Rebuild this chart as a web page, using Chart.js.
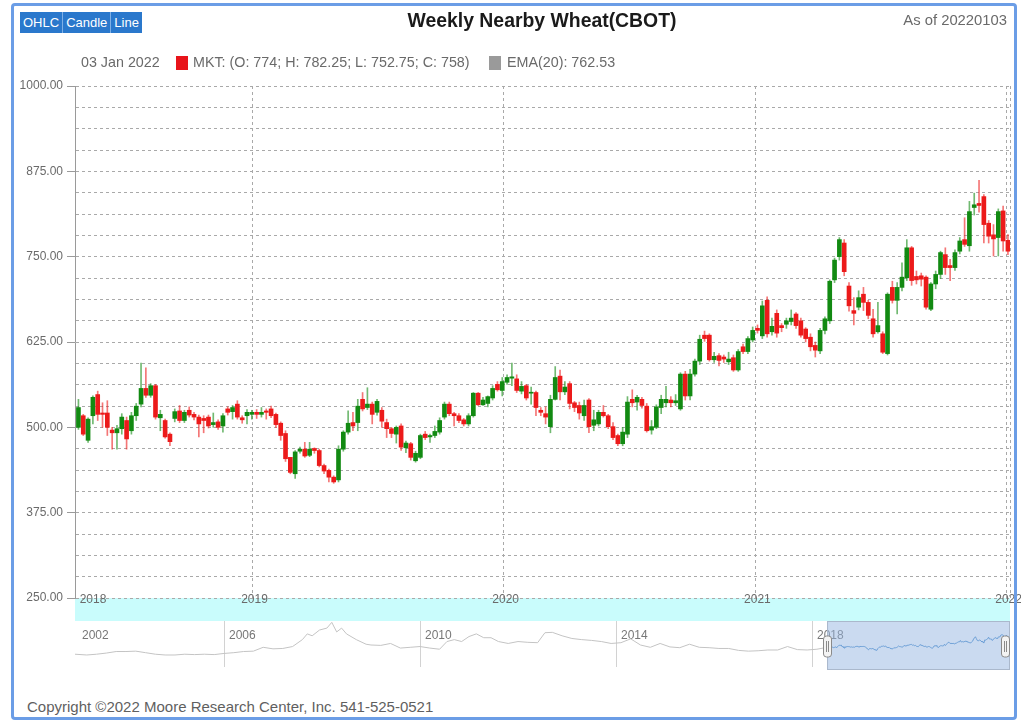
<!DOCTYPE html>
<html>
<head>
<meta charset="utf-8">
<script src="https://cdn.jsdelivr.net/npm/chart.js@4.4.1/dist/chart.umd.min.js"></script>
<style>
  body { margin:0; width:1021px; height:722px; background:#fff; position:relative; overflow:hidden;
         font-family:"Liberation Sans", Arial, sans-serif; }
  canvas { position:absolute; left:0; }
  #main { top:0; }
  #nav { top:621px; }
  .frame { position:absolute; left:11px; top:3px; width:1000px; height:711px;
           border:3px solid #6b9de6; border-radius:4px; pointer-events:none; }
  .btns { position:absolute; left:20px; top:12px; height:21px; background:#2a78cc; display:flex; }
  .btns span { color:#fff; font-size:13px; line-height:21px; padding:0 3px; border-right:1px solid #7fb0e6; }
  .btns span:last-child { border-right:none; }
  .title { position:absolute; left:370px; width:344px; top:9px; text-align:center;
           font-weight:bold; font-size:19.4px; color:#1a1a1a; }
  .asof { position:absolute; right:14px; top:12px; font-size:14.8px; color:#6a6a6a; }
  .info { position:absolute; top:54px; font-size:14.3px; color:#6a6a6a; white-space:nowrap; }
  .sq { position:absolute; top:56px; width:12px; height:14px; }
  .copy { position:absolute; left:27px; top:698px; font-size:15px; color:#5f5f5f; }
</style>
</head>
<body>
<canvas id="main" width="1021" height="625"></canvas>
<canvas id="nav" width="1021" height="49"></canvas>

<div class="btns"><span>OHLC</span><span>Candle</span><span>Line</span></div>
<div class="title">Weekly Nearby Wheat(CBOT)</div>
<div class="asof">As of 20220103</div>
<div class="info" style="left:81px">03 Jan 2022</div>
<div class="sq" style="left:176px;background:#e8141a"></div>
<div class="info" style="left:193px">MKT: (O: 774; H: 782.25; L: 752.75; C: 758)</div>
<div class="sq" style="left:489px;background:#9a9a9a"></div>
<div class="info" style="left:507px">EMA(20): 762.53</div>
<div class="copy">Copyright &copy;2022 Moore Research Center, Inc. 541-525-0521</div>
<div class="frame"></div>

<script>
// weekly bars, first week starts 2018-04-23, one bar per week to 2022-01-03
const firstWeek = '2018-04-23';

const opens = [
  500,517,481,517,548,521,521,496,492,498,510,495,517,534,557,547,561,514,510,490,
  513,524,510,525,519,515,513,515,504,508,502,527,523,534,514,517,519,522,519,524,
  527,519,506,491,456,432,465,468,459,469,466,444,437,427,423,468,493,507,507,541,
  529,534,522,525,507,498,490,502,470,476,451,456,490,486,488,493,515,534,520,517,
  511,505,517,550,533,535,543,563,554,566,572,571,553,561,550,551,525,520,501,541,
  575,552,564,536,532,517,540,503,505,522,517,501,488,476,490,541,537,541,531,496,
  500,529,536,540,536,527,578,546,578,597,635,635,599,605,603,596,602,584,618,611,
  628,645,634,686,640,667,649,651,655,666,656,644,632,620,612,642,656,716,750,770,
  707,671,676,695,683,659,640,637,608,705,686,705,719,763,721,722,720,673,710,724,
  753,737,734,758,775,766,822,828,838,799,782,778,817,774
];
const highs = [
  541,519,514,546,553,536,539,500,503,520,515,522,535,594,587,564,563,525,512,492,
  527,532,525,530,522,518,517,518,521,511,520,530,532,539,517,526,525,526,529,527,
  531,521,508,495,456,466,471,478,478,470,468,446,439,429,473,495,524,522,541,551,
  558,537,541,529,512,500,502,505,480,478,465,490,494,490,502,514,537,537,522,520,
  513,520,551,551,544,546,561,567,573,577,594,577,567,563,559,553,529,530,547,589,
  584,567,567,538,537,540,542,525,525,532,519,507,490,500,545,555,547,544,535,510,
  533,547,560,545,548,580,582,585,600,635,641,637,610,608,606,610,606,614,622,633,
  647,650,685,691,660,672,652,660,672,668,660,646,637,625,645,662,716,748,778,775,
  712,690,700,705,686,673,683,640,697,714,712,741,775,765,729,726,722,712,729,758,
  763,746,760,778,807,831,843,862,841,803,797,820,824,782.25
];
const lows = [
  497,488,478,505,510,500,488,468,468,490,468,490,510,530,544,544,512,495,484,473,
  508,507,507,515,511,486,492,499,500,497,493,518,512,512,506,505,512,513,515,512,
  514,500,481,450,432,425,462,456,457,462,442,432,420,418,420,465,490,495,495,524,
  526,505,518,500,485,485,477,466,463,452,449,454,482,478,485,490,512,517,502,507,
  502,502,515,532,532,530,540,553,546,563,561,551,549,540,534,517,517,505,492,540,
  540,548,527,523,512,510,492,495,502,515,498,482,473,473,485,530,525,528,493,490,
  498,520,530,530,532,525,540,540,575,592,626,597,595,590,595,592,582,582,608,608,
  625,638,630,632,635,632,640,645,650,645,632,625,612,603,608,637,652,712,745,722,
  670,650,672,671,659,632,638,608,606,682,666,700,715,708,710,707,673,671,703,718,
  724,715,730,754,765,758,811,815,770,770,751,751,758,752.75
];
const closes = [
  529,490,512,544,519,519,500,492,498,515,483,517,531,557,547,561,515,519,486,479,
  523,510,522,518,515,505,510,502,507,500,517,522,529,515,511,522,522,519,522,522,
  517,504,488,454,434,464,468,458,468,466,444,436,427,420,468,493,506,502,531,527,
  534,519,538,509,498,491,500,471,477,456,462,488,485,488,494,510,534,520,517,510,
  505,517,550,533,540,545,557,555,567,573,574,554,560,543,551,529,522,515,541,573,
  552,559,535,529,521,532,501,511,522,517,501,485,476,493,537,536,544,532,495,501,
  530,541,541,536,539,578,546,578,597,629,630,599,604,598,600,600,584,611,611,630,
  642,642,678,637,648,638,646,656,660,649,635,630,618,613,642,659,714,745,775,728,
  678,667,690,683,664,637,649,610,695,686,705,720,763,715,716,717,676,710,724,756,
  734,734,756,773,768,816,826,825,797,780,776,816,773,758
];

// y axis: labelled every 125, dashed grid every 31.25
const yGrid = [];
for (let v = 250; v <= 1000; v += 31.25) yGrid.push(v);
const yearLabels = ['2018', '2019', '2020', '2021', '2022'];

// navigator history before the selected range (fractional year, price)
const navYears = [
  2002.96,2003.2,2003.4,2003.6,2003.8,2004.0,2004.2,2004.4,2004.6,2004.8,
  2005.0,2005.2,2005.4,2005.6,2005.8,2006.0,2006.2,2006.4,2006.6,2006.8,
  2007.0,2007.2,2007.4,2007.6,2007.7,2007.8,2007.95,2008.1,2008.2,2008.3,
  2008.4,2008.5,2008.7,2008.9,2009.0,2009.2,2009.4,2009.6,2009.8,2010.0,
  2010.2,2010.4,2010.55,2010.7,2010.85,2011.0,2011.15,2011.3,2011.45,2011.6,
  2011.8,2012.0,2012.2,2012.4,2012.55,2012.7,2012.9,2013.1,2013.3,2013.5,
  2013.7,2013.9,2014.1,2014.3,2014.5,2014.7,2014.9,2015.1,2015.3,2015.5,
  2015.7,2015.9,2016.1,2016.3,2016.5,2016.7,2016.9,2017.1,2017.3,2017.5,
  2017.7,2017.9,2018.1,2018.31
];
const navPrices = [
  320,300,320,350,390,390,400,360,320,300,
  300,320,310,320,310,340,360,390,400,500,
  460,470,520,700,850,800,950,1000,1150,900,
  1000,850,700,580,560,550,600,480,500,520,
  480,450,650,700,650,780,850,750,750,650,
  600,650,630,620,880,890,800,730,700,680,
  650,600,620,720,560,500,600,510,490,580,
  500,490,470,470,420,400,410,430,430,520,
  440,430,450,500
];
const navLabelYears = [2002, 2006, 2010, 2014, 2018];

const DAY = 86400000;
const dayNum = s => Date.parse(s + 'T00:00:00Z') / DAY;
const yearFrac = d => {
  const y = new Date(d * DAY).getUTCFullYear();
  const a = Date.UTC(y, 0, 1) / DAY, b = Date.UTC(y + 1, 0, 1) / DAY;
  return y + (d - a) / (b - a);
};

const week0 = dayNum(firstWeek);
const weekX = opens.map((_, i) => week0 + i * 7);
const xMin = dayNum('2018-04-18');
const xMax = xMin + 1359;
const yearTicks = yearLabels.slice(1).map(y => dayNum(y + '-01-01'));

const GREEN = '#128a12', RED = '#ec1a1a';
const up = closes.map((c, i) => c >= opens[i]);

const FONT = '"Liberation Sans", Arial, sans-serif';
Chart.defaults.font.family = FONT;

// cyan date band under the plot + year labels
const bandPlugin = {
  id: 'band',
  beforeDraw(chart) {
    const { ctx, chartArea: a } = chart;
    ctx.save();
    ctx.fillStyle = '#c9fcfc';
    ctx.fillRect(a.left, a.bottom, a.right - a.left, 23);
    ctx.restore();
  },
  afterDraw(chart) {
    const { ctx, chartArea: a, scales } = chart;
    ctx.save();
    ctx.font = '12px ' + FONT;
    ctx.fillStyle = '#6a6a6a';
    ctx.textAlign = 'center';
    ctx.textBaseline = 'middle';
    ctx.fillText(yearLabels[0], a.left + 18, a.bottom + 2);
    yearTicks.forEach((v, i) => {
      ctx.fillText(yearLabels[i + 1], scales.x.getPixelForValue(v) + 2, a.bottom + 2);
    });
    ctx.restore();
  }
};

new Chart(document.getElementById('main'), {
  type: 'bar',
  data: {
    datasets: [
      {
        label: 'body',
        data: opens.map((o, i) => ({ x: weekX[i], y: [o, closes[i]] })),
        backgroundColor: up.map(u => u ? GREEN : RED),
        barThickness: 4,
        minBarLength: 1,
        grouped: false
      },
      {
        label: 'wick',
        data: lows.map((l, i) => ({ x: weekX[i], y: [l, highs[i]] })),
        backgroundColor: up.map(u => u ? 'rgba(18,138,18,0.6)' : 'rgba(236,26,26,0.6)'),
        barThickness: 1,
        grouped: false
      }
    ]
  },
  options: {
    responsive: false,
    animation: false,
    events: [],
    layout: { padding: { top: 86, right: 11, left: 0, bottom: 0 } },
    plugins: { legend: { display: false }, tooltip: { enabled: false } },
    scales: {
      x: {
        type: 'linear', min: xMin, max: xMax, offset: false,
        afterFit: s => { s.height = 27; },
        afterBuildTicks: s => { s.ticks = yearTicks.concat([xMax]).map(v => ({ value: v })); },
        ticks: { display: false },
        grid: { offset: false, color: '#a9a9a9', drawTicks: false },
        border: { display: false, dash: [3, 3] }
      },
      y: {
        min: 250, max: 1000,
        afterFit: s => { s.width = 75; },
        afterBuildTicks: s => { s.ticks = yGrid.map(v => ({ value: v })); },
        ticks: {
          autoSkip: false, color: '#6a6a6a', padding: 4, font: { size: 12 },
          callback: v => (v % 125 === 0 ? Number(v).toFixed(2) : '')
        },
        grid: {
          color: '#a9a9a9', tickLength: 8,
          tickColor: c => (c.tick && c.tick.value % 125 === 0 ? '#9a9a9a' : 'rgba(0,0,0,0)')
        },
        border: { display: true, color: '#9a9a9a', dash: [3, 3] }
      }
    }
  },
  plugins: [bandPlugin]
});

// navigator
const selStart = yearFrac(weekX[0]);
const navPlugin = {
  id: 'navDecor',
  beforeDatasetsDraw(chart) {
    const { ctx, chartArea: a, scales } = chart;
    ctx.save();
    ctx.strokeStyle = '#d2d2d2';
    ctx.lineWidth = 1;
    navLabelYears.slice(1).forEach(y => {
      const px = Math.round(scales.x.getPixelForValue(y)) + 0.5;
      ctx.beginPath(); ctx.moveTo(px, 0); ctx.lineTo(px, 46); ctx.stroke();
    });
    ctx.font = '12px ' + FONT;
    ctx.fillStyle = '#777';
    ctx.textBaseline = 'middle';
    navLabelYears.forEach((y, i) => {
      const px = i === 0 ? a.left + 7 : scales.x.getPixelForValue(y) + 5;
      ctx.fillText(String(y), px, 15);
    });
    const sx = scales.x.getPixelForValue(selStart);
    ctx.fillStyle = 'rgba(150,182,226,0.5)';
    ctx.fillRect(sx, 0, a.right - sx, 49);
    ctx.strokeStyle = '#aab8cc';
    ctx.strokeRect(sx + 0.5, 0.5, a.right - sx - 1, 48);
    ctx.restore();
  },
  afterDatasetsDraw(chart) {
    const { ctx, chartArea: a, scales } = chart;
    const handle = x => {
      ctx.beginPath();
      ctx.roundRect(x - 4, 15, 8, 21, 3);
      ctx.fillStyle = '#f3f3f3';
      ctx.fill();
      ctx.strokeStyle = '#8a8a8a';
      ctx.stroke();
      ctx.beginPath();
      ctx.moveTo(x - 1, 20); ctx.lineTo(x - 1, 31);
      ctx.moveTo(x + 1, 20); ctx.lineTo(x + 1, 31);
      ctx.stroke();
    };
    ctx.save();
    ctx.lineWidth = 1;
    handle(Math.round(scales.x.getPixelForValue(selStart)) + 0.5);
    handle(a.right - 4.5);
    ctx.restore();
  }
};

new Chart(document.getElementById('nav'), {
  type: 'line',
  data: {
    datasets: [
      {
        data: navYears.map((y, i) => ({ x: y, y: navPrices[i] })),
        borderColor: '#c4c4c4', borderWidth: 1, pointRadius: 0, tension: 0
      },
      {
        data: closes.map((c, i) => ({ x: yearFrac(weekX[i]), y: c })),
        borderColor: '#6c9fd6', borderWidth: 1, pointRadius: 0, tension: 0
      }
    ]
  },
  options: {
    responsive: false,
    animation: false,
    events: [],
    layout: { padding: { left: 75, right: 11, top: 0, bottom: 0 } },
    plugins: { legend: { display: false }, tooltip: { enabled: false } },
    scales: {
      x: { type: 'linear', min: 2002.96, max: 2022.04, display: false },
      y: { min: -91, max: 1185, display: false }
    }
  },
  plugins: [navPlugin]
});
</script>
</body>
</html>
